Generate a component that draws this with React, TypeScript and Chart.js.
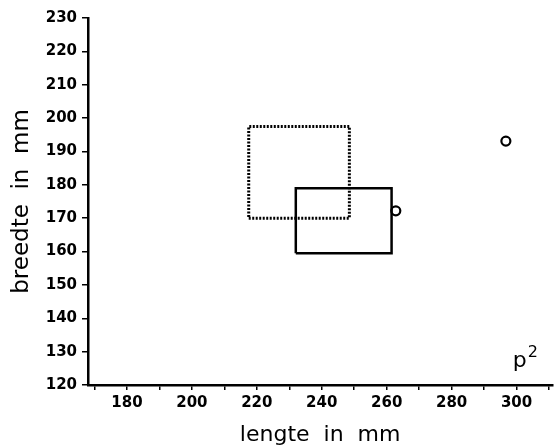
import React, { useEffect, useRef } from "react";
import { Chart, registerables } from "chart.js";

Chart.register(...registerables);

// Axis ranges and ticks
const xMin = 168;
const xMax = 311;
const xTickValues = [170, 180, 190, 200, 210, 220, 230, 240, 250, 260, 270, 280, 290, 300, 310];
const xLabelStep = 20;
const yMin = 120;
const yMax = 230;
const yStep = 10;

// Dotted rectangle (range box)
const dottedRectX = [217.5, 248.5];
const dottedRectY = [170, 197.5];
// Solid rectangle (range box)
const solidRectX = [232, 261.5];
const solidRectY = [159.5, 179];
// Open circles
const circleX = [262.8, 296.7];
const circleY = [172.2, 193.1];

// Annotation
const annotationText = "p";
const annotationSup = "2";
const annotationX = 302.5;
const annotationY = 126.5;

const xTitle = "lengte  in  mm";
const yTitle = "breedte  in  mm";

function rectPoints(xs: number[], ys: number[]) {
  return [
    { x: xs[0], y: ys[0] },
    { x: xs[1], y: ys[0] },
    { x: xs[1], y: ys[1] },
    { x: xs[0], y: ys[1] },
    { x: xs[0], y: ys[0] },
  ];
}

const FONT = "'DejaVu Sans', 'Liberation Sans', sans-serif";

export default function App() {
  const ref = useRef<HTMLCanvasElement | null>(null);

  useEffect(() => {
    if (!ref.current) return;
    const annot = {
      id: "annot",
      afterDraw(chart: any) {
        const ctx = chart.ctx;
        const px = chart.scales.x.getPixelForValue(annotationX);
        const py = chart.scales.y.getPixelForValue(annotationY);
        ctx.save();
        ctx.fillStyle = "#000";
        ctx.textBaseline = "alphabetic";
        ctx.textAlign = "left";
        ctx.font = `22px ${FONT}`;
        const w = ctx.measureText(annotationText).width;
        ctx.fillText(annotationText, px - 12, py + 4);
        ctx.font = `16px ${FONT}`;
        ctx.fillText(annotationSup, px - 12 + w + 1, py - 6);
        ctx.restore();
      },
    };

    const chart = new Chart(ref.current, {
      type: "scatter",
      data: {
        datasets: [
          {
            data: rectPoints(dottedRectX, dottedRectY),
            showLine: true,
            borderColor: "#000",
            borderWidth: 3,
            borderDash: [2, 1.5],
            pointRadius: 0,
            fill: false,
            tension: 0,
          },
          {
            data: rectPoints(solidRectX, solidRectY),
            showLine: true,
            borderColor: "#000",
            borderWidth: 2.5,
            pointRadius: 0,
            fill: false,
            tension: 0,
          },
          {
            data: circleX.map((x, i) => ({ x, y: circleY[i] })),
            showLine: false,
            pointRadius: 4.5,
            pointBorderWidth: 2.2,
            pointBorderColor: "#000",
            pointBackgroundColor: "#fff",
          },
        ],
      } as any,
      options: {
        responsive: false,
        animation: false,
        devicePixelRatio: 1,
        layout: { padding: { top: 18, right: 3, left: 0, bottom: 0 } },
        plugins: { legend: { display: false }, tooltip: { enabled: false } },
        scales: {
          x: {
            type: "linear",
            min: xMin,
            max: xMax,
            position: "bottom",
            grid: {
              display: true,
              drawOnChartArea: false,
              drawTicks: true,
              tickLength: 5,
              color: "#000",
              lineWidth: 1.5,
            },
            border: { display: true, color: "#000", width: 2.5 },
            ticks: {
              color: "#000",
              font: { family: FONT, weight: "bold", size: 15 },
              padding: 4,
              maxRotation: 0,
              autoSkip: false,
              callback: (v: any) => (Number(v) % xLabelStep === 0 ? String(v) : ""),
            },
            afterBuildTicks: (s: any) => {
              s.ticks = xTickValues.map((v) => ({ value: v }));
            },
            afterFit: (s: any) => {
              s.height = 63;
            },
            title: {
              display: true,
              text: xTitle,
              color: "#000",
              font: { family: FONT, size: 22 },
              padding: { top: 0, bottom: 0 },
            },
          },
          y: {
            type: "linear",
            min: yMin,
            max: yMax,
            grid: {
              display: true,
              drawOnChartArea: false,
              drawTicks: true,
              tickLength: 6,
              color: "#000",
              lineWidth: 1.5,
            },
            border: { display: true, color: "#000", width: 2.5 },
            ticks: {
              stepSize: yStep,
              color: "#000",
              font: { family: FONT, weight: "bold", size: 15 },
              padding: 5,
              autoSkip: false,
            },
            afterFit: (s: any) => {
              s.width = 88;
            },
            title: {
              display: true,
              text: yTitle,
              color: "#000",
              font: { family: FONT, size: 23 },
              padding: { top: 8, bottom: 0 },
            },
          },
        },
      } as any,
      plugins: [annot],
    });
    return () => chart.destroy();
  }, []);

  return (
    <div style={{ position: "absolute", left: 0, top: 0, width: 559, height: 448, background: "#fff" }}>
      <canvas ref={ref} width={559} height={448} style={{ display: "block" }} />
    </div>
  );
}
